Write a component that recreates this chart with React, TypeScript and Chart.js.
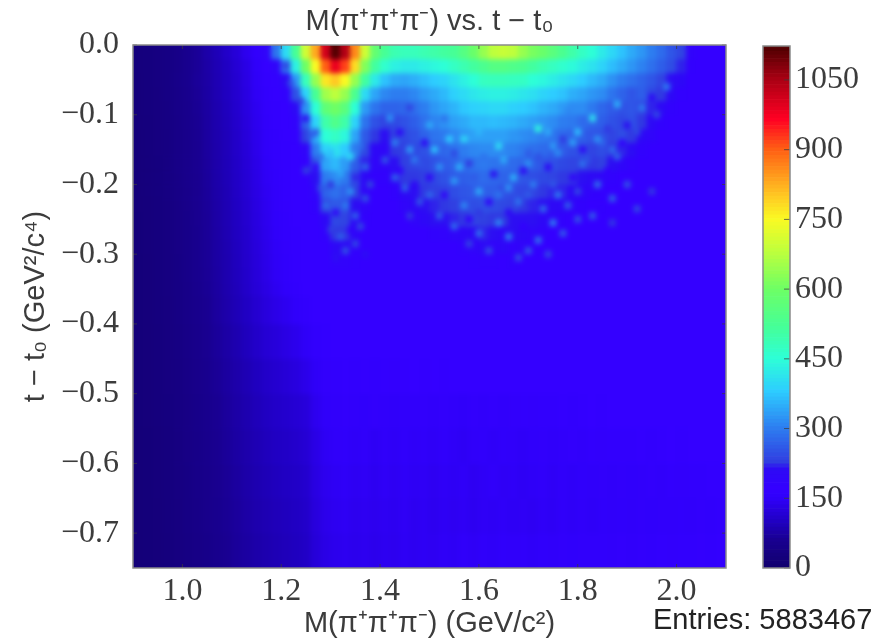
import React, { useEffect, useRef } from "react";
import { Chart, registerables } from "chart.js";

Chart.register(...registerables);

const massBins = [
  0.91, 0.93, 0.95, 0.97, 0.99, 1.01, 1.03, 1.05, 1.07, 1.09,
  1.11, 1.13, 1.15, 1.17, 1.19, 1.21, 1.23, 1.25, 1.27, 1.29,
  1.31, 1.33, 1.35, 1.37, 1.39, 1.41, 1.43, 1.45, 1.47, 1.49,
  1.51, 1.53, 1.55, 1.57, 1.59, 1.61, 1.63, 1.65, 1.67, 1.69,
  1.71, 1.73, 1.75, 1.77, 1.79, 1.81, 1.83, 1.85, 1.87, 1.89,
  1.91, 1.93, 1.95, 1.97, 1.99, 2.01, 2.03, 2.05, 2.07, 2.09,
];
const tEdges = [
  0, -0.02, -0.04, -0.06, -0.08, -0.1, -0.12, -0.14, -0.16, -0.18, -0.2, -0.22, -0.24, -0.26,
  -0.28, -0.3, -0.32, -0.34, -0.36, -0.4, -0.45, -0.5, -0.55, -0.6, -0.65, -0.7, -0.75,
];
const counts = [
  [25,28,32,38,45,55,65,78,90,105, 120,140,160,190,290,400,520,700,830,1010, 1115,1040,860,700,580,520,490,480,480,490, 500,510,520,550,590,640,680,690,680,640, 610,590,560,530,500,470,450,420,395,370, 345,325,300,280,255,235,185,172,170,170],
  [25,28,32,38,45,55,65,76,88,100, 115,132,150,172,190,300,430,600,750,900, 985,920,780,620,510,460,430,420,420,430, 440,450,470,490,510,530,550,550,540,530, 510,490,475,460,445,425,410,390,365,345, 325,305,285,265,245,220,175,170,170,170],
  [24,27,33,37,46,54,66,75,87,99, 113,130,148,165,175,210,330,480,640,770, 800,750,640,510,420,370,345,340,350,365, 380,390,410,430,450,475,480,480,475,470, 450,440,425,410,395,380,360,345,320,300, 285,270,255,235,215,205,172,170,170,170],
  [24,27,31,38,44,53,64,74,86,98, 112,128,146,162,168,180,250,390,520,650, 680,640,530,400,340,310,300,300,310,330, 345,360,385,400,415,425,430,430,425,415, 405,390,380,370,350,340,325,315,290,270, 255,265,240,225,205,175,170,168,171,170],
  [24,27,31,36,44,52,62,73,84,96, 110,126,142,158,166,170,210,320,450,570, 600,560,450,330,290,270,270,275,285,300, 325,340,355,375,385,390,395,395,385,380, 370,355,345,330,315,315,295,275,260,250, 255,235,220,210,180,172,170,170,168,170],
  [24,26,30,36,43,51,61,72,83,94, 108,124,140,155,164,170,185,270,390,500, 540,500,390,290,250,235,240,250,265,285, 305,320,335,345,360,360,365,360,355,345, 335,325,315,300,295,280,270,265,250,240, 250,225,210,180,172,170,170,170,170,170],
  [23,26,30,35,43,50,60,71,82,93, 106,122,138,152,162,168,175,230,350,450, 470,440,340,260,225,215,230,240,250,270, 290,295,310,325,335,335,335,335,325,315, 310,300,290,280,270,265,255,250,235,245, 225,210,190,172,170,170,170,170,170,170],
  [23,26,30,35,42,50,59,70,81,92, 105,120,136,150,160,167,172,190,300,390, 410,380,300,240,205,200,225,230,240,250, 265,275,290,300,310,315,315,310,305,295, 285,280,265,260,250,250,235,245,225,220, 205,180,172,170,170,170,170,170,170,170],
  [22,25,29,35,42,49,58,69,80,91, 104,118,134,148,158,166,170,175,250,340, 360,330,265,220,195,190,215,230,235,240, 250,260,270,285,290,295,290,285,280,275, 265,255,250,240,235,230,225,230,215,195, 178,172,170,170,170,170,170,170,170,170],
  [22,25,29,34,41,49,57,68,79,90, 103,116,132,146,156,165,170,172,215,300, 315,295,245,205,180,180,200,225,225,230, 240,250,260,265,275,280,275,270,265,255, 245,240,235,225,225,215,210,195,180,172, 170,170,170,170,170,170,170,170,170,170],
  [22,25,29,34,41,48,57,67,78,89, 102,115,130,144,155,164,170,172,190,270, 285,270,230,195,172,172,180,210,215,225, 230,235,245,255,260,265,265,250,245,240, 235,225,220,220,205,195,195,175,170,170, 170,170,170,170,170,170,170,170,170,170],
  [22,24,28,33,40,48,56,66,77,88, 100,113,128,142,153,163,168,170,180,235, 260,250,215,190,170,170,172,190,205,215, 220,225,230,240,245,250,245,240,235,225, 220,215,210,205,190,180,172,170,170,170, 170,170,170,170,170,170,170,170,170,170],
  [21,24,28,33,40,47,56,65,76,87, 99,112,126,140,152,162,168,170,172,205, 240,235,205,180,170,170,170,170,190,205, 215,215,220,225,235,230,225,225,215,215, 215,205,190,180,172,170,170,170,170,170, 170,170,170,170,170,170,170,170,170,170],
  [21,24,28,33,39,47,55,65,75,86, 98,110,125,138,150,160,167,170,172,180, 225,225,195,172,170,170,170,170,170,172, 180,185,195,200,210,220,215,205,215,205, 195,185,172,170,170,170,170,170,170,170, 170,170,170,170,170,170,170,170,170,170],
  [21,24,28,33,39,46,55,64,74,85, 97,109,123,136,148,158,166,170,170,172, 205,210,185,170,170,170,170,170,170,170, 170,170,172,180,190,205,190,200,185,190, 180,172,170,170,170,170,170,170,170,170, 170,170,170,170,170,170,170,170,170,170],
  [21,23,27,32,38,46,54,64,74,84, 96,108,122,135,147,157,165,170,170,170, 185,185,175,170,170,170,170,170,170,170, 170,170,170,172,175,178,178,172,180,172, 170,170,170,170,170,170,170,170,170,170, 170,170,170,170,170,170,170,170,170,170],
  [21,23,27,32,38,46,54,63,73,84, 95,107,121,134,146,156,165,170,170,172, 172,170,170,170,170,170,170,170,170,170, 170,170,170,170,170,170,170,170,170,170, 170,170,170,170,170,170,170,170,170,170, 170,170,170,170,170,170,170,170,170,170],
  [21,23,27,32,38,45,53,62,72,82, 93,105,118,130,142,152,160,168,170,170, 170,170,170,170,170,170,170,170,170,170, 170,170,170,170,170,170,170,170,170,170, 170,170,170,170,170,170,170,170,170,170, 170,170,170,170,170,170,170,170,170,170],
  [20,23,27,31,37,44,52,60,70,80, 90,100,112,124,134,142,152,160,168,170, 170,170,170,170,170,170,170,170,170,170, 170,170,170,170,170,170,170,170,170,170, 170,170,170,170,170,170,170,170,170,170, 170,170,170,170,170,170,170,170,170,170],
  [20,22,26,30,36,43,50,58,67,76, 85,95,105,115,122,130,138,148,160,166, 168,170,168,170,168,170,170,168,170,170, 168,170,168,170,170,168,170,170,170,170, 170,170,170,170,170,170,170,170,170,170, 170,170,170,170,170,170,170,170,170,170],
  [20,22,25,30,35,41,48,55,64,72, 80,88,97,105,112,118,125,135,148,158, 162,165,162,165,160,165,163,165,168,165, 168,165,168,170,168,170,168,170,170,170, 170,170,170,170,170,170,170,170,170,170, 170,170,170,170,170,170,170,170,170,170],
  [20,22,25,29,34,40,46,53,61,69, 77,84,92,99,105,110,115,122,140,150, 155,158,155,152,158,155,150,155,153,158, 155,158,155,150,158,155,160,155,158,160, 158,160,162,165,162,165,168,165,168,170, 168,170,170,170,170,170,170,170,170,170],
  [19,21,24,28,33,39,45,52,59,66, 74,81,88,94,100,104,108,115,132,145, 150,152,148,150,145,150,147,152,148,150, 147,152,148,145,150,152,148,152,150,148, 152,155,150,155,158,155,160,158,160,162, 160,165,162,165,168,165,168,170,168,170],
  [19,21,24,28,32,38,44,50,57,64, 71,78,85,90,96,100,104,110,128,140, 145,148,144,146,142,147,144,148,145,146, 143,147,145,148,143,147,150,146,148,145, 148,150,146,150,148,152,150,153,150,155, 152,155,158,155,160,158,162,160,165,165],
  [19,20,23,27,31,37,43,49,55,62, 69,76,82,87,92,96,100,106,124,136, 142,145,140,143,140,144,142,146,142,145, 141,145,143,146,142,146,145,148,145,146, 144,148,145,150,147,150,148,152,150,152, 150,153,152,155,153,157,155,158,157,160],
  [18,20,23,26,30,36,41,47,53,60, 67,73,79,84,89,93,97,103,120,132, 138,142,138,141,137,142,140,145,142,145, 143,147,145,150,146,150,148,152,150,152, 148,152,150,155,152,155,153,157,155,158, 155,158,157,160,158,162,160,163,162,165],
];

// isolated fine bins that stand out of the coarse grid above
const spotMass = [
  1.46,1.50,1.53,1.57,1.60,1.64,1.68,1.72,1.75,1.78,1.80,1.83,1.85,1.88,1.90,1.93,1.95,1.98,2.00,1.86,1.81,1.77,1.70,1.55,1.49,1.44,1.42,1.92,1.96,1.89,
  1.41,1.44,1.47,1.50,1.52,1.55,1.58,1.60,1.63,1.66,1.69,1.71,1.74,1.76,1.79,1.81,1.84,1.86,1.88,1.90,1.45,1.48,1.53,1.57,1.62,1.68,1.73,1.78,1.83,1.87,
  1.52,1.55,1.58,1.60,1.64,1.66,1.69,1.72,1.75,1.77,1.80,1.83,1.62,1.68,1.74,1.70,1.87,1.92,1.58,1.46,1.95,
  1.25,1.27,1.28,1.30,1.32,1.34,1.35,1.37,1.38,1.29,1.31,1.33,1.35,1.37,1.30,1.32,1.34,1.36,1.33,1.35,1.31,1.37,1.30,1.34,1.28,1.36,1.26,
  1.21,1.22,1.24,1.25,1.27,
  1.43,1.46,1.48,1.51,1.54,1.56,1.59,1.61,1.65,1.67,1.70,1.72,1.74,1.76,1.79,1.82,1.84,1.87,1.91,1.94,1.60,1.64,1.66,1.70,1.75,1.80,1.85,1.50,1.43,1.47,
];
const spotT = [
  -0.09,-0.115,-0.105,-0.135,-0.125,-0.145,-0.135,-0.12,-0.145,-0.095,-0.125,-0.105,-0.14,-0.085,-0.115,-0.09,-0.075,-0.06,-0.045,-0.12,-0.15,-0.135,-0.155,-0.155,-0.14,-0.125,-0.105,-0.125,-0.1,-0.14,
  -0.165,-0.18,-0.165,-0.19,-0.175,-0.195,-0.17,-0.21,-0.185,-0.205,-0.18,-0.2,-0.175,-0.215,-0.19,-0.17,-0.2,-0.18,-0.16,-0.2,-0.205,-0.225,-0.215,-0.23,-0.225,-0.225,-0.235,-0.23,-0.215,-0.22,
  -0.245,-0.26,-0.25,-0.27,-0.255,-0.275,-0.26,-0.28,-0.255,-0.27,-0.25,-0.245,-0.295,-0.305,-0.3,-0.295,-0.255,-0.235,-0.285,-0.245,-0.21,
  -0.18,-0.175,-0.205,-0.2,-0.185,-0.21,-0.19,-0.175,-0.2,-0.23,-0.24,-0.23,-0.245,-0.22,-0.265,-0.275,-0.265,-0.26,-0.295,-0.285,-0.305,-0.3,-0.155,-0.16,-0.16,-0.145,-0.13,
  -0.03,-0.055,-0.08,-0.105,-0.125,
  -0.14,-0.15,-0.17,-0.15,-0.135,-0.175,-0.19,-0.16,-0.165,-0.19,-0.17,-0.16,-0.125,-0.155,-0.14,-0.165,-0.135,-0.15,-0.155,-0.14,-0.24,-0.215,-0.24,-0.215,-0.2,-0.21,-0.235,-0.215,-0.19,-0.2,
];
const spotCounts = [
  235,345,290,395,355,400,325,440,330,310,365,410,270,350,215,300,205,300,200,225,210,225,260,240,210,205,320,240,240,180,
  255,185,300,195,320,330,225,345,215,320,210,300,205,295,190,290,280,180,270,250,270,255,190,310,185,290,280,265,175,265,
  265,280,180,285,310,300,175,285,300,260,250,260,250,245,240,260,225,240,235,225,225,
  230,175,255,225,340,320,220,275,235,280,195,295,270,250,230,265,185,240,250,240,215,215,365,395,290,285,265,
  230,250,235,215,260,
  300,330,250,370,380,350,260,290,345,350,320,250,345,315,335,250,320,280,215,185,225,290,210,260,255,240,175,275,270,205,
];

const massTicks = [1.0, 1.2, 1.4, 1.6, 1.8, 2.0];
const tTicks = [0, -0.1, -0.2, -0.3, -0.4, -0.5, -0.6, -0.7];
const colorTicks = [0, 150, 300, 450, 600, 750, 900, 1050];
const colorMax = 1123;

const colorStops: [number, number[]][] = [
  [0, [18, 0, 110]], [60, [25, 0, 145]], [100, [32, 0, 195]], [150, [48, 0, 250]], [170, [52, 0, 255]],
  [214, [45, 10, 245]], [226, [48, 60, 225]], [300, [45, 125, 240]], [380, [45, 205, 255]], [450, [45, 255, 215]],
  [520, [70, 255, 150]], [600, [110, 255, 100]], [680, [190, 255, 60]], [750, [250, 250, 35]], [800, [255, 200, 35]],
  [900, [255, 95, 20]], [965, [255, 0, 35]], [1050, [170, 0, 20]], [1123, [75, 0, 0]],
];
function colorOf(v: number) {
  for (let i = 1; i < colorStops.length; i++) {
    const [b, cb] = colorStops[i];
    if (v <= b) {
      const [a, ca] = colorStops[i - 1];
      const f = (v - a) / (b - a);
      const c = ca.map((x, k) => Math.round(x + (cb[k] - x) * f));
      return `rgb(${c[0]},${c[1]},${c[2]})`;
    }
  }
  return "rgb(75,0,0)";
}

const serif = "'Liberation Serif', 'DejaVu Serif', serif";
const sans = "'Liberation Sans', Arial, sans-serif";
const textColor = "#3c3c3c";

const softenPlugin = {
  id: "soften",
  afterDatasetsDraw(chart: any, _a: any, opts: any) {
    const { ctx, chartArea: a, canvas } = chart;
    const l = a.left, t = a.top, w = a.right - a.left, h = a.bottom - a.top;
    if (opts.blur) {
      ctx.save();
      ctx.beginPath();
      ctx.rect(l, t, w, h);
      ctx.clip();
      ctx.filter = `blur(${opts.blur}px)`;
      ctx.drawImage(canvas, l, t, w, h, l, t, w, h);
      ctx.restore();
    }
    ctx.save();
    ctx.strokeStyle = "rgba(60,60,60,0.75)";
    ctx.lineWidth = 1;
    const len = opts.tick;
    const { x, y } = chart.scales;
    ctx.beginPath();
    if (opts.xTicks) {
      for (const v of opts.xTicks) {
        const px = x.getPixelForValue(v);
        ctx.moveTo(px, t); ctx.lineTo(px, t + len);
        ctx.moveTo(px, t + h); ctx.lineTo(px, t + h - len);
      }
    }
    for (const v of opts.yTicks) {
      const py = y.getPixelForValue(v);
      if (opts.xTicks) { ctx.moveTo(l, py); ctx.lineTo(l + len, py); }
      ctx.moveTo(l + w, py); ctx.lineTo(l + w - len, py);
    }
    ctx.stroke();
    ctx.strokeStyle = "#8a8a8a";
    ctx.lineWidth = 1.5;
    ctx.strokeRect(l, t, w, h);
    ctx.restore();
  },
};

export default function App() {
  const mainRef = useRef<HTMLCanvasElement>(null);
  const barRef = useRef<HTMLCanvasElement>(null);

  useEffect(() => {
    const datasets: any[] = counts.map((row, r) => ({
      label: `t bin ${r}`,
      data: row.map((_, c) => ({ x: massBins[c], y: [tEdges[r + 1], tEdges[r]] })),
      backgroundColor: row.map(colorOf),
      borderWidth: 0,
      barThickness: 10,
      stack: "cells",
      order: 2,
    }));
    datasets.push({
      label: "fine bins",
      data: spotMass.map((m, i) => ({ x: m, y: [spotT[i] - 0.0045, spotT[i] + 0.0045] })),
      backgroundColor: spotCounts.map(colorOf),
      borderWidth: 0,
      barThickness: 6,
      stack: "cells",
      order: 1,
    });
    const main = new Chart(mainRef.current!, {
      type: "bar",
      data: { datasets } as any,
      plugins: [softenPlugin],
      options: {
        animation: false,
        responsive: false,
        layout: { padding: { left: 0, right: 162, top: 0, bottom: 0 } },
        plugins: {
          legend: { display: false },
          tooltip: { enabled: false },
          title: {
            display: true,
            text: "M(π⁺π⁺π⁻) vs. t − t₀",
            fullSize: false,
            color: textColor,
            font: { family: sans, size: 29, weight: "normal", lineHeight: 1.2 },
            padding: { top: 5, bottom: 5.2 },
          },
          soften: { blur: 2.8, tick: 4, xTicks: massTicks, yTicks: tTicks },
        },
        scales: {
          x: {
            type: "linear",
            min: 0.9,
            max: 2.1,
            offset: false,
            stacked: true,
            grid: { display: false, offset: false, drawTicks: false },
            border: { display: false },
            afterFit: (s: any) => { s.height = 73; },
            afterBuildTicks: (s: any) => { s.ticks = massTicks.map((value) => ({ value })); },
            ticks: {
              autoSkip: false, maxRotation: 0, padding: 4, color: textColor,
              font: { family: serif, size: 32 },
              callback: (v: any) => Number(v).toFixed(1),
            },
            title: {
              display: true,
              text: "M(π⁺π⁺π⁻) (GeV/c²)",
              color: textColor,
              font: { family: sans, size: 29 },
              padding: { top: 0, bottom: 0 },
            },
          },
          y: {
            type: "linear",
            min: -0.75,
            max: 0,
            stacked: false,
            grid: { display: false },
            border: { display: false },
            afterFit: (s: any) => { s.width = 133; },
            afterBuildTicks: (s: any) => { s.ticks = tTicks.map((value) => ({ value })); },
            ticks: {
              autoSkip: false, padding: 6, color: textColor,
              font: { family: serif, size: 32 },
              callback: (v: any) => (Number(v) === 0 ? "0.0" : "\u2212" + Math.abs(Number(v)).toFixed(1)),
            },
            title: {
              display: true,
              text: "t − t₀ (GeV²/c⁴)",
              color: textColor,
              font: { family: sans, size: 29 },
              padding: { top: 19, bottom: 0 },
            },
          },
        },
      } as any,
    });

    const levels: number[] = [];
    for (let v = 0; v < colorMax; v += 8) levels.push(v);
    const bar = new Chart(barRef.current!, {
      type: "bar",
      data: {
        labels: ["counts"],
        datasets: levels.map((v) => ({
          label: String(v),
          data: [[v, Math.min(v + 8, colorMax)]],
          backgroundColor: colorOf(v + 4),
          borderWidth: 0,
          barPercentage: 1,
          categoryPercentage: 1,
          stack: "bar",
        })),
      } as any,
      plugins: [softenPlugin],
      options: {
        animation: false,
        responsive: false,
        layout: { padding: { left: 23, right: 0, top: 46, bottom: 73 } },
        plugins: {
          legend: { display: false },
          tooltip: { enabled: false },
          soften: { blur: 0, tick: 6, yTicks: colorTicks },
        },
        scales: {
          x: { display: false, stacked: true },
          y: {
            position: "right",
            min: 0,
            max: colorMax,
            stacked: false,
            grid: { display: false, drawTicks: false },
            border: { display: false },
            afterFit: (s: any) => { s.width = 98; },
            afterBuildTicks: (s: any) => { s.ticks = colorTicks.map((value) => ({ value })); },
            ticks: {
              autoSkip: false, padding: 5, color: textColor, font: { family: serif, size: 32 },
              callback: (v: any) => String(v),
            },
          },
        },
      } as any,
    });
    return () => { main.destroy(); bar.destroy(); };
  }, []);

  const canvasStyle: React.CSSProperties = { position: "absolute", top: 0, display: "block", filter: "blur(0.6px)" };
  return (
    <div style={{ position: "fixed", left: 0, top: 0, width: 888, height: 641, background: "#fff", overflow: "hidden" }}>
      <canvas ref={mainRef} width={888} height={641} style={{ ...canvasStyle, left: 0 }} />
      <canvas ref={barRef} width={148} height={641} style={{ ...canvasStyle, left: 740 }} />
      <div style={{ position: "absolute", left: 653, top: 603, font: `29px ${sans}`, color: "#222", whiteSpace: "nowrap", filter: "blur(0.4px)" }}>
        Entries: 5883467
      </div>
    </div>
  );
}
